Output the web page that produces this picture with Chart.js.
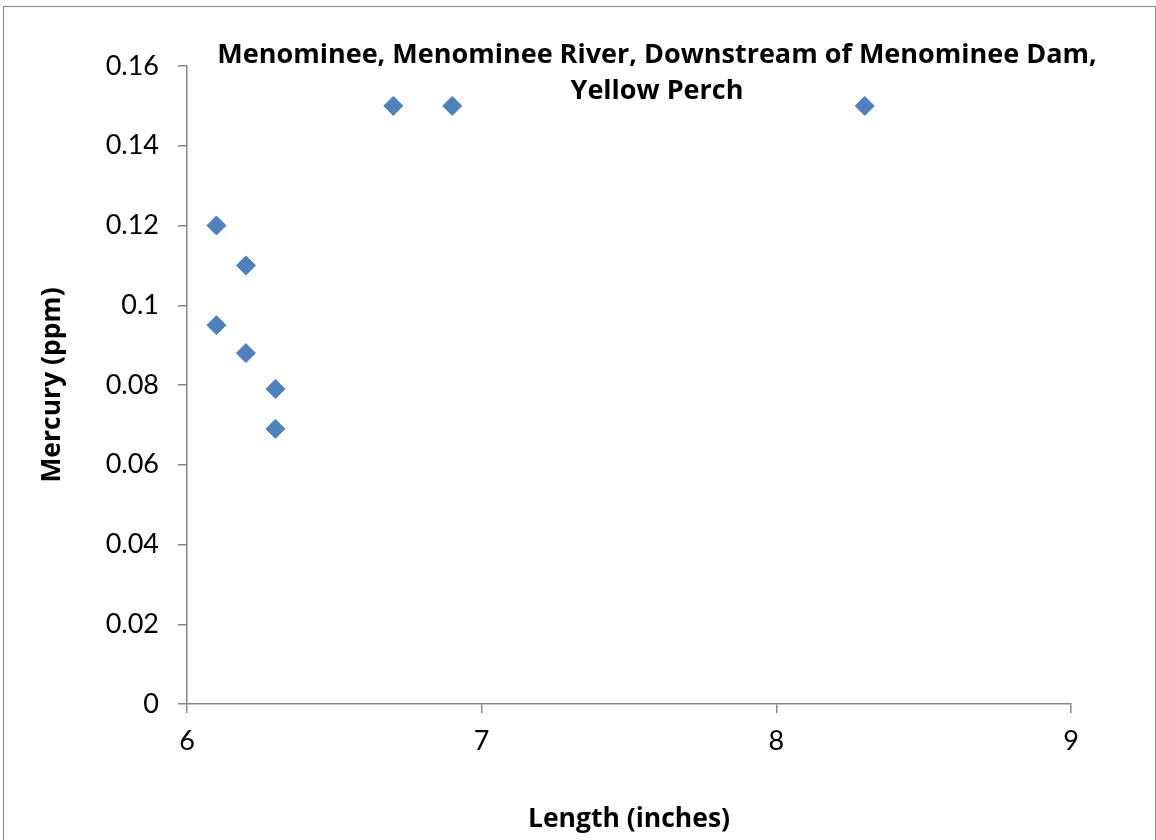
<!DOCTYPE html>
<html>
<head>
<meta charset="utf-8">
<script src="https://cdn.jsdelivr.net/npm/chart.js@4"></script>
<style>
  html, body { margin: 0; padding: 0; background: #fff; overflow: hidden; }
  #frame { position: absolute; left: 3px; top: 6px; width: 1153px; height: 900px; border: 1px solid #868686; box-sizing: border-box; }
  #wrap { position: absolute; left: 0; top: 0; width: 1156px; height: 840px; }
</style>
</head>
<body>
<div id="frame"></div>
<div id="wrap"><canvas id="chartCanvas" width="1156" height="840"></canvas></div>
<script>
const lengthInches = [6.1, 6.2, 6.1, 6.2, 6.3, 6.3, 6.7, 6.9, 8.3];
const mercuryPpm = [0.12, 0.11, 0.095, 0.088, 0.079, 0.069, 0.15, 0.15, 0.15];
const xTicks = [6, 7, 8, 9];
const yTicks = [0, 0.02, 0.04, 0.06, 0.08, 0.1, 0.12, 0.14, 0.16];
const titleLines = ['Menominee, Menominee River, Downstream of Menominee Dam,', 'Yellow Perch'];

const axisGray = '#868686';
const tickFont = 'Lato, "Open Sans", sans-serif';
const boldFont = '"Open Sans", Lato, sans-serif';

// Excel-style title overlaid on the plot area
const overlayTitle = {
    id: 'overlayTitle',
    afterDraw(chart) {
        const ctx = chart.ctx;
        ctx.save();
        ctx.font = 'bold 27px ' + boldFont;
        ctx.fillStyle = '#000';
        ctx.textAlign = 'center';
        ctx.textBaseline = 'middle';
        titleLines.forEach((line, i) => ctx.fillText(line, 657, 55 + i * 36));
        ctx.restore();
    }
};

new Chart(document.getElementById('chartCanvas'), {
    type: 'scatter',
    data: {
        datasets: [{
            data: lengthInches.map((x, i) => ({ x: x, y: mercuryPpm[i] })),
            pointStyle: 'rectRot',
            pointRadius: 9.5,
            pointHoverRadius: 9.5,
            backgroundColor: '#4F81BD',
            borderColor: '#4A7EBB',
            borderWidth: 1
        }]
    },
    options: {
        responsive: false,
        animation: false,
        layout: { padding: { top: 66, right: 85, bottom: 0, left: 20 } },
        plugins: {
            legend: { display: false },
            tooltip: { enabled: false }
        },
        scales: {
            x: {
                type: 'linear',
                min: 6,
                max: 9,
                afterBuildTicks: scale => { scale.ticks = xTicks.map(v => ({ value: v })); },
                afterFit: scale => { scale.height = 136; },
                grid: { drawOnChartArea: false, drawTicks: true, tickLength: 9, color: axisGray, lineWidth: 1.5 },
                border: { color: axisGray, width: 1.5 },
                ticks: { color: '#000', font: { family: tickFont, size: 27 }, padding: 12, maxRotation: 0 },
                title: { display: true, text: 'Length (inches)', color: '#000', font: { family: boldFont, size: 26.5, weight: 'bold' }, padding: { top: 0, bottom: 5 } }
            },
            y: {
                type: 'linear',
                min: 0,
                max: 0.16,
                afterBuildTicks: scale => { scale.ticks = yTicks.map(v => ({ value: v })); },
                afterFit: scale => { scale.width = 167; },
                grid: { drawOnChartArea: false, drawTicks: true, tickLength: 9, color: axisGray, lineWidth: 1.5 },
                border: { color: axisGray, width: 1.5 },
                ticks: { color: '#000', font: { family: tickFont, size: 27 }, padding: 19, callback: v => String(v) },
                title: { display: true, text: 'Mercury (ppm)', color: '#000', font: { family: boldFont, size: 26.5, weight: 'bold' }, padding: { top: 17, bottom: 0 } }
            }
        }
    },
    plugins: [overlayTitle]
});
</script>
</body>
</html>
